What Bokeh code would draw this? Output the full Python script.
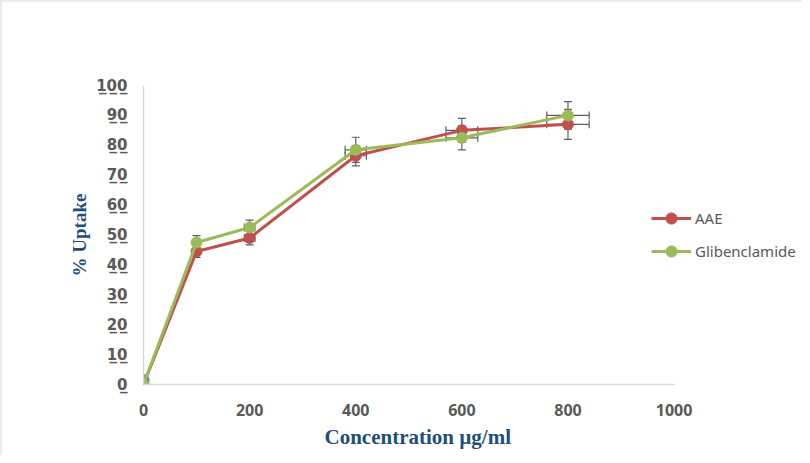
from bokeh.plotting import figure
from bokeh.models import Range1d, ColumnDataSource, Whisker, TeeHead, Legend, LegendItem, FixedTicker, Title
from bokeh.embed import file_html
from bokeh.resources import INLINE

# ---- data ----
conc = [0, 100, 200, 400, 600, 800]
aae = [0, 44.5, 49, 76.5, 85, 87]
aae_err = [0, 2, 2.3, 3.4, 4, 5]
glib = [0, 47.5, 52.5, 78.5, 82.5, 90]
glib_err = [0, 2.3, 2.5, 4.2, 4, 4.6]
conc_err = [0, 5, 10, 20, 30, 40]
blue_x = [0]
blue_y = [1.5]
series_names = ["AAE", "Glibenclamide"]
x_ticks = [0, 200, 400, 600, 800, 1000]
y_ticks = [0, 10, 20, 30, 40, 50, 60, 70, 80, 90, 100]
x_title = "Concentration µg/ml"
y_title = "% Uptake"

RED = "#C0504D"
GREEN = "#9BBB59"
BLUE = "#4F81BD"
ERR = "#5f5f5f"
TICK = "#595959"
TITLE = "#1F4E79"

p = figure(width=802, height=455, output_backend="svg", toolbar_location=None,
           x_range=Range1d(0, 1242), y_range=Range1d(0, 100),
           min_border_left=141, min_border_right=2, min_border_top=83, min_border_bottom=73)
p.styles = {"border-left": "2px solid #ececec", "border-top": "2px solid #ececec"}
p.grid.visible = False
p.outline_line_color = None
p.background_fill_color = "white"
p.border_fill_color = "white"

for ax in (p.xaxis[0], p.yaxis[0]):
    ax.axis_line_color = "#d9d9d9"
    ax.axis_line_width = 1.5
    ax.major_tick_line_color = None
    ax.minor_tick_line_color = None
    ax.major_label_text_color = TICK
    ax.major_label_text_font = "Noto Sans"
    ax.major_label_text_font_style = "bold"
    ax.major_label_text_font_size = "16px"
    ax.axis_label_text_font = "Liberation Serif"
    ax.axis_label_text_font_style = "bold"
    ax.axis_label_text_color = TITLE

p.xaxis[0].bounds = (0, 1000)
p.xaxis[0].ticker = FixedTicker(ticks=x_ticks)
p.yaxis[0].ticker = FixedTicker(ticks=y_ticks)
p.yaxis[0].major_label_text_font = "DejaVu Sans"
p.yaxis[0].major_label_text_font_size = "15px"
p.yaxis[0].major_label_overrides = {t: "".join(c + "\u0332" for c in str(t)) for t in y_ticks}
p.xaxis[0].major_label_standoff = 13
p.yaxis[0].major_label_standoff = 10
p.yaxis[0].axis_label = y_title
p.yaxis[0].axis_label_text_font_size = "19px"
p.yaxis[0].axis_label_standoff = 3

xt = Title(text=x_title, align="left", offset=181, standoff=8,
           text_font="Liberation Serif", text_font_style="bold", text_font_size="21px",
           text_color=TITLE)
p.add_layout(xt, "below")

items = []
for name, ys, errs, col in ((series_names[0], aae, aae_err, RED), (series_names[1], glib, glib_err, GREEN)):
    src = ColumnDataSource(dict(x=conc, y=ys,
                                lo=[a - b for a, b in zip(ys, errs)], hi=[a + b for a, b in zip(ys, errs)],
                                xl=[a - b for a, b in zip(conc, conc_err)], xh=[a + b for a, b in zip(conc, conc_err)]))
    ln = p.line("x", "y", source=src, line_color=col, line_width=3)
    vw = Whisker(source=src, base="x", upper="hi", lower="lo", dimension="height",
                 line_color=ERR, line_width=1.2,
                 upper_head=TeeHead(size=8, line_color=ERR, line_width=1.2),
                 lower_head=TeeHead(size=8, line_color=ERR, line_width=1.2))
    hw = Whisker(source=src, base="y", upper="xh", lower="xl", dimension="width",
                 line_color=ERR, line_width=1.2,
                 upper_head=TeeHead(size=8, line_color=ERR, line_width=1.2),
                 lower_head=TeeHead(size=8, line_color=ERR, line_width=1.2))
    p.add_layout(vw)
    p.add_layout(hw)
    if name == series_names[0]:
        p.scatter(blue_x, blue_y, size=11, color=BLUE)
    sc = p.scatter("x", "y", source=src, size=11, color=col)
    items.append(LegendItem(label=name, renderers=[ln, sc]))

legend = Legend(items=items, location=(508, 119), orientation="vertical",
                glyph_width=40, glyph_height=28, label_height=28, spacing=5,
                padding=0, margin=0, label_standoff=4,
                label_text_font="Noto Sans", label_text_font_size="15px", label_text_color=TICK,
                border_line_color=None, background_fill_alpha=0)
p.add_layout(legend, "center")

open("out.html", "w").write(file_html(p, INLINE))
